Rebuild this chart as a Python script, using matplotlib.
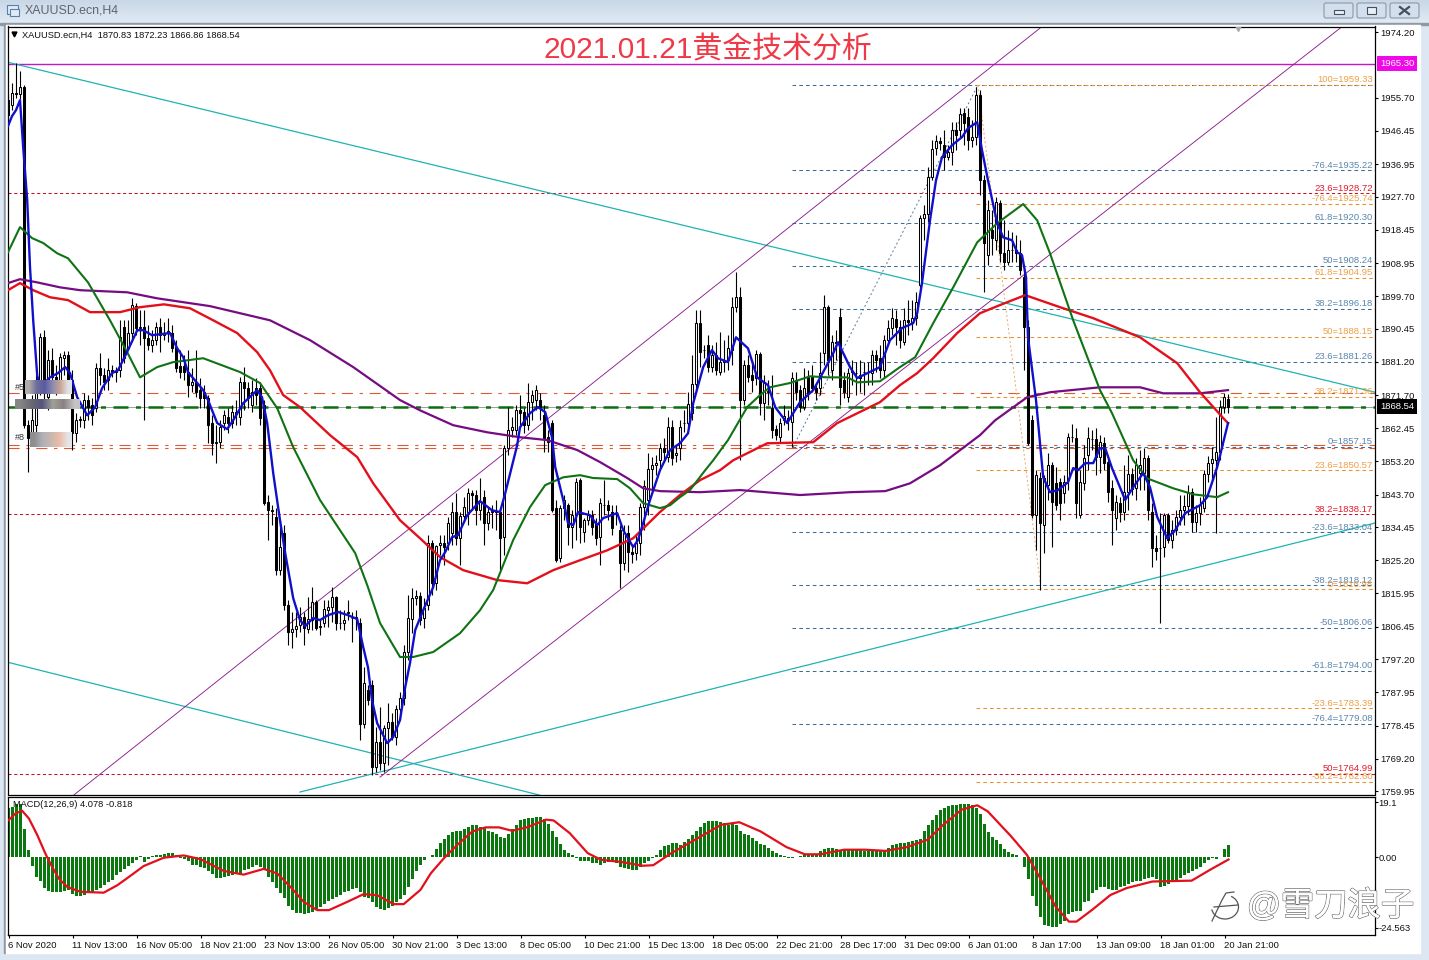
import numpy as np
import matplotlib
matplotlib.use("Agg")
import matplotlib.pyplot as plt
import matplotlib.patheffects as pe
from matplotlib.patches import Rectangle, FancyBboxPatch, Arc

plt.rcParams["font.family"] = ["Liberation Sans", "Noto Sans CJK SC", "DejaVu Sans"]

# H4 candles, 10 bars per row
opens = [
    1955.0,1953.6,1957.0,1956.7,1958.7,1863.3,1859.6,1863.3,1874.0,1888.1,
    1871.2,1881.6,1876.8,1875.4,1882.2,1883.1,1876.0,1861.0,1864.7,1864.7,
    1870.4,1869.0,1868.1,1879.4,1877.4,1876.0,1878.8,1878.3,1878.8,1891.0,
    1885.0,1889.3,1896.9,1890.7,1891.0,1887.8,1885.9,1887.3,1891.0,1888.7,
    1889.3,1889.3,1885.3,1880.0,1880.0,1878.3,1874.6,1875.4,1873.2,1872.6,
    1870.9,1863.9,1858.2,1858.5,1863.9,1865.6,1863.9,1867.0,1865.6,1875.4,
    1873.7,1869.0,1873.7,1873.7,1869.0,1841.6,1839.3,1837.4,1822.4,1832.8,
    1812.5,1804.9,1805.8,1806.9,1809.1,1805.8,1808.3,1813.4,1806.3,1807.5,
    1811.1,1812.0,1814.8,1807.5,1807.5,1810.6,1808.9,1808.9,1807.5,1779.0,
    1788.5,1790.0,1766.8,1773.9,1768.0,1777.8,1779.5,1775.3,1783.2,1786.3,
    1799.3,1808.6,1814.5,1815.1,1808.9,1812.5,1830.0,1818.7,1829.5,1830.0,
    1830.0,1832.8,1838.8,1831.4,1837.6,1838.8,1844.1,1843.6,1839.3,1843.0,
    1835.7,1838.8,1839.0,1838.8,1831.7,1856.8,1861.9,1861.9,1867.5,1867.0,
    1863.3,1869.8,1870.4,1870.4,1866.1,1859.9,1863.9,1839.9,1825.8,1839.9,
    1840.7,1834.5,1837.9,1847.8,1833.1,1836.5,1837.9,1835.7,1831.7,1840.7,
    1840.7,1838.8,1838.5,1833.7,1824.4,1832.8,1827.5,1827.2,1830.0,1840.2,
    1842.2,1850.9,1852.0,1853.4,1856.8,1854.3,1862.7,1854.8,1856.8,1863.9,
    1863.9,1866.7,1874.9,1892.1,1884.5,1885.9,1879.7,1883.1,1878.3,1881.1,
    1881.6,1884.5,1896.6,1899.4,1870.4,1880.2,1877.4,1876.6,1883.3,1869.5,
    1872.6,1868.1,1862.2,1859.9,1864.7,1865.3,1864.2,1876.0,1873.2,1868.4,
    1876.8,1876.8,1873.7,1873.7,1883.6,1896.6,1878.8,1886.7,1893.8,1876.0,
    1871.2,1878.3,1878.0,1877.4,1878.3,1878.3,1878.0,1883.1,1882.2,1878.8,
    1887.3,1890.7,1893.2,1891.0,1886.7,1892.9,1892.4,1893.5,1902.8,1921.7,
    1922.8,1933.3,1941.4,1943.4,1942.3,1938.9,1940.3,1946.5,1946.5,1951.3,
    1950.2,1943.7,1944.6,1956.4,1932.4,1911.3,1918.3,1915.5,1925.9,1911.8,
    1909.3,1912.7,1912.7,1911.8,1905.1,1891.0,1864.7,1837.9,1848.4,1835.1,
    1846.4,1852.0,1846.9,1847.2,1844.1,1847.8,1859.9,1859.6,1837.9,1846.9,
    1854.8,1859.4,1859.4,1854.3,1858.2,1852.9,1845.5,1837.1,1841.3,1838.8,
    1844.4,1849.5,1845.5,1849.8,1849.8,1854.0,1838.8,1828.6,1828.6,1828.9,
    1837.9,1830.9,1833.7,1837.4,1839.3,1840.5,1844.4,1835.9,1838.5,1839.9,
    1849.5,1852.6,1853.4,1855.7,1868.4,1870.83,
]
closes = [
    1950.8,1957.0,1956.7,1958.7,1863.3,1859.6,1864.7,1874.0,1888.1,1876.0,
    1881.6,1876.8,1875.4,1882.5,1883.1,1876.0,1861.0,1864.7,1865.0,1870.4,
    1868.4,1866.1,1879.4,1877.4,1875.4,1878.8,1878.3,1878.5,1888.1,1882.2,
    1889.3,1897.2,1890.7,1891.0,1887.8,1885.9,1887.3,1891.0,1888.7,1889.3,
    1889.8,1885.0,1879.4,1878.3,1878.3,1874.6,1875.4,1872.6,1870.9,1870.9,
    1863.3,1858.2,1858.5,1862.7,1866.1,1863.9,1867.0,1866.4,1875.4,1873.7,
    1870.9,1872.6,1871.8,1865.3,1841.3,1839.3,1839.0,1822.4,1828.9,1812.5,
    1804.9,1805.8,1806.6,1809.1,1806.0,1808.6,1813.4,1806.0,1806.6,1811.4,
    1812.0,1814.8,1807.5,1807.5,1808.3,1810.3,1808.9,1809.1,1779.0,1790.5,
    1785.7,1766.8,1773.9,1768.0,1777.8,1779.5,1775.3,1783.2,1786.3,1799.3,
    1808.9,1814.5,1815.1,1808.3,1811.7,1830.0,1818.7,1829.2,1830.0,1828.9,
    1835.7,1838.8,1831.4,1837.6,1840.2,1844.1,1843.6,1839.3,1841.6,1835.7,
    1838.8,1839.0,1838.8,1831.4,1856.8,1861.9,1862.7,1867.5,1866.7,1863.3,
    1869.8,1871.8,1873.2,1868.4,1859.6,1858.5,1839.3,1825.2,1839.9,1842.2,
    1834.5,1837.9,1847.2,1834.5,1836.5,1837.9,1834.5,1831.4,1841.3,1840.7,
    1839.3,1834.2,1838.5,1824.4,1832.8,1827.5,1826.9,1830.0,1840.2,1846.1,
    1850.9,1852.0,1852.6,1856.8,1855.7,1862.7,1854.0,1855.4,1862.7,1863.9,
    1869.2,1874.9,1892.1,1883.9,1884.5,1879.7,1883.1,1878.8,1881.1,1881.6,
    1885.0,1896.6,1899.4,1870.4,1880.2,1876.8,1876.0,1883.3,1869.5,1875.2,
    1872.9,1861.9,1860.5,1863.9,1865.9,1864.7,1876.6,1872.6,1868.4,1873.7,
    1872.3,1873.7,1872.6,1878.0,1896.6,1881.6,1886.7,1886.4,1874.0,1872.6,
    1878.0,1878.5,1878.0,1876.6,1878.3,1878.3,1883.1,1881.6,1878.8,1887.3,
    1890.7,1893.5,1891.0,1887.3,1892.9,1892.4,1893.5,1898.0,1921.7,1922.8,
    1933.3,1941.2,1943.4,1942.9,1938.9,1940.3,1946.5,1945.1,1951.0,1948.5,
    1943.7,1944.6,1956.4,1932.4,1914.6,1924.0,1916.1,1926.2,1911.8,1909.3,
    1912.7,1912.7,1911.8,1907.0,1891.0,1858.2,1837.9,1849.2,1835.7,1848.4,
    1852.0,1841.6,1840.7,1841.3,1847.2,1859.9,1859.9,1841.3,1847.2,1854.0,
    1859.6,1859.4,1854.3,1858.5,1852.6,1844.4,1839.3,1841.6,1838.8,1844.4,
    1849.5,1845.2,1852.0,1852.0,1854.0,1839.3,1828.6,1827.8,1828.6,1837.9,
    1830.9,1833.7,1837.4,1839.3,1840.5,1844.1,1835.9,1838.5,1840.7,1849.5,
    1852.6,1853.7,1855.7,1868.4,1871.2,1868.54,
]
highs = [
    1956.4,1959.8,1965.4,1963.2,1959.2,1864.7,1871.8,1877.4,1889.3,1890.1,
    1884.5,1885.0,1880.2,1883.6,1884.2,1884.2,1878.8,1866.7,1865.8,1872.3,
    1871.8,1870.9,1880.8,1883.6,1879.4,1882.2,1880.2,1879.7,1892.9,1892.9,
    1892.9,1899.1,1897.7,1895.7,1895.7,1891.5,1890.1,1892.4,1893.5,1892.4,
    1893.5,1891.5,1887.3,1884.5,1883.1,1884.5,1879.4,1884.5,1876.6,1874.6,
    1871.8,1866.1,1863.3,1864.7,1867.5,1868.1,1869.0,1870.4,1876.8,1879.7,
    1875.4,1876.0,1876.6,1875.4,1870.4,1843.6,1840.7,1839.9,1836.5,1835.1,
    1813.9,1810.6,1810.6,1812.0,1810.6,1814.8,1817.6,1813.9,1808.3,1813.9,
    1813.9,1817.6,1815.1,1811.1,1811.1,1813.9,1810.6,1811.1,1808.9,1795.0,
    1790.0,1791.4,1778.1,1783.8,1778.7,1784.9,1782.1,1784.3,1788.0,1801.2,
    1815.3,1817.3,1816.8,1816.2,1814.5,1832.3,1830.9,1829.5,1832.3,1832.3,
    1837.4,1841.6,1844.1,1838.8,1843.0,1845.5,1845.0,1845.0,1848.4,1845.0,
    1840.2,1840.7,1842.2,1839.3,1857.7,1868.4,1865.6,1869.0,1871.8,1868.1,
    1875.2,1873.2,1874.6,1872.3,1869.0,1861.9,1864.7,1842.2,1840.7,1843.6,
    1841.3,1839.3,1848.4,1848.4,1837.1,1839.3,1839.3,1837.1,1842.7,1847.8,
    1842.2,1840.7,1840.7,1835.1,1835.1,1835.1,1829.5,1832.3,1841.3,1847.8,
    1855.4,1854.3,1854.8,1858.2,1859.6,1865.6,1864.7,1857.7,1864.7,1867.5,
    1872.6,1883.1,1895.7,1895.7,1885.9,1888.7,1885.9,1886.7,1889.5,1887.3,
    1888.7,1899.4,1906.5,1902.2,1881.6,1883.1,1881.6,1884.5,1883.9,1877.4,
    1876.0,1877.4,1863.3,1865.3,1868.9,1867.5,1878.3,1878.3,1874.6,1879.4,
    1878.8,1880.2,1874.6,1883.9,1900.0,1897.2,1888.7,1890.1,1896.3,1878.3,
    1879.4,1881.6,1881.1,1881.6,1881.1,1881.1,1884.5,1884.5,1885.9,1888.7,
    1892.9,1896.3,1895.7,1892.9,1896.3,1898.6,1898.6,1900.8,1922.5,1925.4,
    1936.1,1943.7,1945.1,1944.6,1946.5,1942.3,1948.8,1948.8,1952.7,1952.7,
    1952.7,1949.4,1958.7,1957.8,1933.8,1926.8,1924.0,1927.6,1926.8,1921.1,
    1918.3,1917.8,1916.9,1915.5,1908.4,1892.9,1866.1,1850.6,1850.0,1849.2,
    1855.4,1852.9,1851.5,1848.4,1849.2,1861.0,1863.6,1862.5,1850.6,1857.7,
    1862.7,1861.9,1862.5,1860.5,1859.9,1854.0,1847.8,1843.6,1843.0,1852.0,
    1854.8,1851.2,1854.0,1856.3,1856.8,1854.8,1841.3,1832.3,1838.5,1838.5,
    1838.5,1836.5,1839.3,1843.6,1843.6,1846.4,1845.5,1840.7,1843.0,1850.6,
    1854.6,1857.1,1865.6,1870.4,1872.3,1872.23,
]
lows = [
    1950.2,1952.2,1955.6,1955.3,1862.5,1850.0,1857.7,1860.5,1871.8,1870.4,
    1867.5,1874.6,1871.8,1873.2,1877.4,1874.6,1856.3,1858.5,1862.7,1862.5,
    1864.7,1863.3,1867.0,1874.6,1873.2,1873.2,1876.8,1875.4,1876.8,1880.8,
    1884.5,1887.3,1888.7,1885.9,1864.7,1884.5,1883.9,1885.9,1883.9,1887.3,
    1886.7,1883.9,1878.3,1876.6,1876.0,1871.2,1872.6,1871.2,1868.1,1868.1,
    1858.2,1854.8,1852.6,1856.8,1861.9,1861.0,1862.5,1863.3,1863.3,1867.5,
    1868.1,1867.0,1869.0,1863.3,1840.7,1830.9,1835.1,1821.0,1821.0,1811.1,
    1801.2,1800.4,1803.5,1804.9,1801.2,1804.6,1805.5,1805.5,1804.1,1806.3,
    1806.3,1807.7,1805.5,1805.8,1805.5,1808.3,1802.1,1805.5,1774.4,1777.8,
    1784.3,1764.6,1765.4,1766.0,1765.4,1767.4,1774.4,1773.0,1780.1,1784.3,
    1797.0,1804.6,1812.5,1806.9,1806.0,1811.1,1815.3,1816.8,1826.6,1823.8,
    1828.0,1829.5,1829.5,1823.8,1835.9,1835.1,1839.3,1835.1,1836.5,1829.5,
    1833.7,1834.2,1833.7,1822.4,1826.6,1854.8,1859.9,1860.5,1863.3,1861.0,
    1861.9,1864.7,1867.5,1864.7,1855.7,1855.7,1838.8,1824.7,1824.7,1836.5,
    1829.5,1828.6,1830.9,1830.0,1830.3,1835.1,1832.3,1829.5,1823.8,1837.9,
    1836.5,1832.3,1835.1,1817.3,1822.4,1821.8,1824.4,1825.2,1826.6,1833.7,
    1837.9,1845.0,1849.2,1851.2,1852.9,1852.9,1852.0,1852.9,1853.4,1861.3,
    1862.5,1864.7,1873.2,1879.7,1882.2,1878.3,1878.3,1877.4,1877.4,1878.3,
    1878.8,1880.2,1895.2,1853.4,1868.9,1875.4,1872.6,1874.6,1866.1,1864.7,
    1868.9,1859.6,1859.1,1858.5,1863.3,1861.9,1857.1,1870.4,1867.0,1867.5,
    1870.4,1872.6,1870.4,1871.8,1880.2,1877.4,1876.0,1881.6,1868.9,1870.9,
    1869.8,1874.6,1871.8,1872.6,1871.8,1874.6,1874.6,1878.3,1876.6,1876.6,
    1885.9,1888.7,1885.9,1885.0,1885.9,1888.7,1890.1,1891.5,1902.0,1915.5,
    1920.6,1932.4,1939.5,1940.9,1935.2,1938.1,1936.7,1940.9,1944.6,1942.3,
    1940.9,1941.7,1942.3,1928.2,1900.8,1908.4,1911.3,1912.7,1909.3,1907.0,
    1908.4,1909.3,1909.3,1905.6,1878.8,1857.7,1837.1,1828.0,1816.8,1827.2,
    1842.2,1828.9,1839.3,1836.5,1841.3,1845.0,1858.5,1837.1,1837.1,1845.0,
    1850.6,1856.3,1849.2,1849.8,1850.6,1841.6,1829.5,1833.7,1835.9,1836.5,
    1839.3,1843.6,1842.2,1845.0,1845.0,1836.5,1823.3,1825.2,1807.5,1826.1,
    1830.0,1828.6,1832.3,1835.1,1835.1,1837.9,1833.1,1833.1,1835.1,1838.8,
    1847.2,1847.8,1832.8,1853.4,1866.7,1866.86,
]

# moving averages, (bar, price)
blue_bars = [0,1,2,3,3.8,4.8,5.5,6.3,7.3,8,10.5,12.5,14.3,15.5,17.3,19.8,21.8,23.5,26,27.5,30,32.3,33.8,36,40.5,42.3,43.8,45,48.8,50,52.3,54.8,56.3,58.8,62.3,63.5,64.8,66.3,68,69.3,71.3,73,74.3,76.3,78,80,82.5,85,87.3,88.8,90,91,92.3,94.8,96.3,98,99.3,100.5,101.8,103.8,106.3,108,109.3,111,112.5,114.8,118,121,123,124.3,127.3,128,130.5,132.5,134.3,136,136.8,138.8,140,141.3,142.5,145.5,147.3,148.8,152.3,153.8,156.3,157.5,158.8,160.5,163,165.5,168,170,171.3,173.8,176,177.5,180,182,185,187.3,190,191.8,194.8,196.3,198,201.3,203,206.3,207.5,210.5,212.3,218,220.5,223.5,226.3,227.3,228.5,230.5,232,233.5,236,238.5,240,242.3,243.5,245,247.3,248.8,251,252.3,253.5,254.5,255,257,258,258.8,260.5,262.5,265,266.3,267.5,269.3,271.3,273,274.3,276,279.3,281.3,283.8,285.5,287.3,289.8,291.8,294.3,298,299.8,302.3,305]
blue_vals = [1947.7,1950.5,1952.2,1955.0,1941.7,1926.8,1907.9,1892.9,1877.4,1874.0,1876.8,1878.0,1879.7,1878.0,1871.2,1866.1,1868.4,1873.7,1878.0,1878.8,1884.5,1890.1,1890.1,1888.7,1889.3,1885.0,1882.5,1878.3,1873.2,1870.4,1863.9,1862.2,1864.7,1869.5,1873.2,1871.2,1863.9,1849.8,1836.5,1827.2,1814.5,1808.3,1806.6,1808.9,1808.3,1809.7,1810.6,1809.7,1808.6,1800.7,1795.0,1785.7,1779.2,1773.6,1775.3,1780.1,1789.4,1796.2,1805.5,1811.1,1817.6,1825.2,1827.5,1831.7,1832.3,1837.9,1841.9,1839.3,1838.8,1844.1,1857.7,1862.7,1866.7,1868.4,1867.0,1859.9,1851.5,1842.2,1835.7,1835.1,1838.8,1837.9,1835.1,1837.1,1838.5,1833.7,1828.9,1830.9,1835.7,1842.2,1850.6,1856.3,1858.2,1861.0,1869.5,1879.7,1884.5,1882.2,1881.1,1888.1,1885.0,1876.8,1874.6,1868.4,1863.9,1866.7,1869.8,1873.2,1876.6,1883.6,1886.7,1879.7,1876.6,1879.7,1887.3,1890.7,1892.1,1894.9,1903.4,1921.1,1932.4,1938.9,1942.3,1944.6,1947.1,1948.8,1940.9,1932.4,1920.3,1916.3,1915.5,1912.1,1911.3,1905.1,1888.1,1870.4,1858.2,1848.6,1844.4,1845.0,1847.2,1851.2,1850.6,1852.6,1852.6,1856.8,1856.8,1851.2,1842.2,1845.8,1849.8,1845.8,1837.4,1831.4,1833.7,1838.5,1840.7,1843.0,1851.5,1863.9]

red_bars = [0,3,6.3,10.5,15,20.5,28,33,39,45.5,51.3,57.3,62.3,65.5,68.8,73,80.5,87.3,91.3,98,103,108,113.8,122.3,129.8,136.3,143,149.8,156.3,163,168,173,178,181.3,189.8,201.3,207.3,218,223,227.3,231.3,237.3,243,248,254.3,263,271.3,283,292.3,298,304.3,305]
red_vals = [1901.4,1903.4,1901.4,1899.4,1898.6,1895.2,1895.2,1896.6,1897.4,1896.3,1892.9,1889.3,1883.9,1878.8,1871.8,1868.4,1860.5,1854.3,1846.9,1836.5,1831.4,1826.1,1822.4,1819.6,1818.7,1822.4,1825.2,1828.0,1831.4,1838.8,1843.6,1847.8,1850.6,1853.4,1858.2,1858.5,1863.9,1869.8,1874.6,1878.0,1882.2,1889.3,1894.9,1897.2,1900.0,1896.6,1893.5,1888.1,1880.8,1872.6,1864.7,1863.9]

purple_bars = [0,3,7.3,13,18,29.8,37.3,50.5,65.5,75.5,86.3,98,103,111.3,119.8,128,134.8,142.3,148,154.8,158.8,163,173,183,198,210.5,219.3,225.5,233,243,246.8,254.8,260.5,273,283,288.8,298,305]
purple_vals = [1903.4,1904.5,1903.6,1902.2,1901.4,1900.8,1899.1,1896.9,1892.9,1887.3,1879.7,1870.4,1867.5,1863.3,1861.3,1859.9,1859.1,1856.3,1852.9,1848.4,1845.5,1844.7,1844.4,1845.0,1843.6,1844.4,1844.7,1846.9,1852.0,1860.5,1864.7,1871.2,1872.6,1874.0,1874.0,1872.3,1872.3,1873.2]

green_bars = [0,3,6,8.8,12.3,15,20,25.5,29.8,33,37.3,41.3,48.8,58,63,67.3,71.3,78,86.8,89.8,93,98,101.3,106.3,113,118,121.3,126.3,130.5,134.3,138.8,143,146.3,152.3,155.5,158.8,163,165.5,168,170.5,174.3,176.3,180,184.8,188,190.5,195.5,200.5,204.8,209.8,212.3,218,223,226.8,231.3,236.3,242.3,247.3,253.8,257.3,260.5,266.3,273,276,281.3,284.8,291.3,296.3,302.3,305]
green_vals = [1912.1,1919.2,1916.1,1914.7,1911.8,1910.4,1903.6,1892.9,1883.9,1876.8,1879.7,1881.1,1882.2,1878.3,1875.2,1868.1,1857.1,1842.2,1827.2,1818.2,1807.5,1797.9,1797.9,1799.3,1804.6,1811.1,1816.8,1830.9,1840.2,1846.4,1848.6,1849.2,1848.4,1848.1,1845.5,1841.3,1839.9,1840.7,1843.0,1845.0,1850.6,1853.4,1859.1,1868.4,1871.8,1874.0,1875.2,1877.1,1876.8,1876.8,1875.4,1875.7,1879.7,1882.5,1892.1,1902.2,1914.9,1920.3,1925.7,1921.1,1911.8,1892.9,1873.2,1866.7,1853.4,1848.3,1845.5,1843.8,1843.0,1844.4]

# MACD histogram, 10 bars per row
macd_hist = [
    17.0,17.6,18.5,18.5,9.7,2.4,-3.1,-6.9,-8.4,-10.6,
    -11.8,-12.0,-12.2,-12.1,-11.8,-11.5,-12.9,-13.5,-13.5,-13.1,
    -12.4,-12.1,-11.5,-10.6,-9.8,-8.7,-7.8,-6.4,-5.1,-4.1,
    -3.1,-2.1,-1.0,0.3,-1.7,-0.8,0.3,0.6,0.8,1.0,
    1.4,1.4,0.9,-0.3,-0.8,-1.4,-2.8,-2.9,-3.5,-3.8,
    -4.9,-5.8,-7.2,-7.2,-6.8,-6.5,-6.1,-5.8,-5.8,-4.4,
    -4.1,-3.6,-2.9,-3.3,-4.1,-7.0,-8.7,-10.7,-12.6,-14.2,
    -16.9,-18.4,-19.5,-19.6,-19.8,-19.6,-19.2,-18.1,-17.3,-16.3,
    -15.2,-14.6,-13.8,-13.1,-12.2,-11.7,-11.2,-10.7,-12.2,-14.0,
    -14.2,-15.7,-17.3,-18.1,-18.4,-17.7,-16.9,-15.7,-14.6,-13.1,
    -10.5,-7.6,-4.7,-2.6,-0.9,0.1,0.9,2.9,4.9,6.4,
    7.6,8.9,9.3,9.3,9.9,10.7,11.1,11.1,10.7,10.3,
    9.1,8.7,8.2,7.2,6.8,8.2,9.9,11.4,12.8,13.2,
    13.6,13.8,14.0,14.0,13.4,11.7,9.3,7.0,4.7,2.6,
    1.4,0.6,-0.2,-1.2,-1.4,-1.5,-1.9,-2.0,-2.9,-2.1,
    -1.7,-1.7,-2.1,-3.3,-3.7,-4.3,-4.4,-4.4,-3.3,-2.1,
    -1.2,-0.2,0.9,2.6,3.8,4.4,4.9,4.9,4.4,5.2,
    6.4,7.9,9.1,10.7,11.9,12.5,12.6,12.5,12.2,11.9,
    11.4,11.9,11.1,9.1,8.2,7.6,6.8,5.8,4.7,4.1,
    3.3,2.1,1.4,0.7,0.3,-0.2,-0.3,-0.1,0.3,0.9,
    0.9,0.9,1.2,2.1,2.9,3.3,3.3,2.9,2.6,2.9,
    2.9,2.9,2.9,2.6,2.3,2.1,2.1,2.1,2.3,2.6,
    3.3,4.1,4.7,4.9,5.1,5.4,5.6,6.1,6.4,9.1,
    11.1,12.8,14.6,16.3,17.3,17.7,18.1,18.3,18.4,18.7,
    18.4,18.1,17.3,14.9,11.7,8.7,7.2,6.1,4.7,2.9,
    1.7,1.2,0.6,0.2,-3.5,-7.6,-13.4,-16.9,-21.0,-23.7,
    -24.1,-24.5,-24.3,-23.3,-22.2,-19.8,-19.2,-18.9,-18.7,-15.7,
    -15.2,-12.6,-11.4,-10.5,-10.5,-11.2,-11.4,-11.4,-10.5,-9.9,
    -9.3,-8.7,-8.2,-8.2,-7.6,-7.2,-7.0,-7.6,-10.5,-9.9,
    -9.3,-8.7,-8.2,-7.2,-6.1,-5.6,-4.9,-4.1,-3.3,-2.1,
    -0.9,-0.3,-0.6,0.2,2.9,4.078,
]
signal_bars = [0,1.8,3.4,5.1,7.2,9.3,10.9,12.6,14.7,18,23.8,27.2,30.1,33.8,38.8,43.8,48,53.8,58.8,63.8,67.2,70.5,73.8,77.2,80.1,84.7,88.8,92.2,96.3,98.8,103,105.6,108.9,112.2,116,119.3,122.6,125.9,129.8,134.4,136.3,140.3,144.8,148.1,153.3,158.6,161.2,165.7,172.3,178.2,182.7,188,194.5,199.1,203,208.9,214.1,219.3,224.6,229.8,233.7,238.3,242.2,244.8,250.7,254.6,257.9,261.8,265.1,267,270.9,275.5,279.5,286,295.8,300.4,305]
signal_vals = [12.9,15.3,16.2,13.5,7.7,1.0,-3.4,-7.5,-10.4,-12.1,-12.4,-9.8,-6.9,-3.1,-0.2,0.6,-0.7,-4.8,-6.1,-4.1,-5.7,-10.4,-15.6,-18.5,-18.5,-15.6,-12.9,-13.3,-16.4,-16.4,-11.4,-5.6,-0.3,4.3,9.0,10.4,10.4,9.2,10.5,13.1,12.8,8.4,1.4,-0.9,-1.7,-3.0,-2.8,1.4,6.6,11.3,12.2,9.0,3.5,1.0,1.0,2.6,2.6,2.2,3.5,6.1,11.3,16.6,18.1,16.0,7.2,0.8,-7.3,-17.3,-22.5,-22.5,-18.4,-13.2,-10.8,-8.5,-8.2,-4.4,-0.818]

# fibonacci levels, blue set and orange set
blue_fib = [
    ("", 1959.33), ("-76.4=1935.22", 1935.22), ("61.8=1920.30", 1920.30),
    ("50=1908.24", 1908.24), ("38.2=1896.18", 1896.18), ("23.6=1881.26", 1881.26),
    ("0=1857.15", 1857.15), ("-23.6=1833.04", 1833.04), ("-38.2=1818.12", 1818.12),
    ("-50=1806.06", 1806.06), ("-61.8=1794.00", 1794.00), ("-76.4=1779.08", 1779.08),
]
orange_fib = [
    ("100=1959.33", 1959.33), ("-76.4=1925.74", 1925.74), ("61.8=1904.95", 1904.95),
    ("50=1888.15", 1888.15), ("38.2=1871.36", 1871.36), ("23.6=1850.57", 1850.57),
    ("0=1816.98", 1816.98), ("-23.6=1783.39", 1783.39), ("-38.2=1762.60", 1762.60),
]
red_fib = [("23.6=1928.72", 1928.72), ("38.2=1838.17", 1838.17), ("50=1764.99", 1764.99)]

price_ticks = [1974.20,1955.70,1946.45,1936.95,1927.70,1918.45,1908.95,1899.70,1890.45,1881.20,1871.70,
               1862.45,1853.20,1843.70,1834.45,1825.20,1815.95,1806.45,1797.20,1787.95,1778.45,1769.20,1759.95]
time_labels = ["6 Nov 2020","11 Nov 13:00","16 Nov 05:00","18 Nov 21:00","23 Nov 13:00","26 Nov 05:00",
               "30 Nov 21:00","3 Dec 13:00","8 Dec 05:00","10 Dec 21:00","15 Dec 13:00","18 Dec 05:00",
               "22 Dec 21:00","28 Dec 17:00","31 Dec 09:00","6 Jan 01:00","8 Jan 17:00","13 Jan 09:00",
               "18 Jan 01:00","20 Jan 21:00"]

W, H = 1429, 960
fig = plt.figure(figsize=(W / 100, H / 100), dpi=100, facecolor="#dce7f3")


def px_axes(left, top, right, bottom, **kw):
    return fig.add_axes([left / W, 1 - bottom / H, (right - left) / W, (bottom - top) / H], **kw)


# window frame behind the charts
bg = px_axes(0, 0, W, H)
bg.set_xlim(0, W)
bg.set_ylim(H, 0)
bg.axis("off")
bg.imshow(np.linspace(0, 1, 24).reshape(-1, 1), extent=(0, W, 23, 0), aspect="auto",
          cmap=matplotlib.colors.LinearSegmentedColormap.from_list("bar", ["#c9d7e6", "#e0eaf4"]))
bg.set_xlim(0, W)
bg.set_ylim(H, 0)
bg.add_patch(Rectangle((0, 23), 1429, 1.5, color="#8f98a3"))
bg.add_patch(Rectangle((4, 23), 1.5, 930, color="#8f98a3"))
bg.add_patch(Rectangle((6, 25), 1414, 928, color="white"))
for left in [1324, 1357, 1390]:
    bg.add_patch(FancyBboxPatch((left, 3), 29, 15, boxstyle="round,pad=0,rounding_size=2",
                                facecolor="#d3dfec", edgecolor="#8c98a6", lw=0.8))
bg.add_patch(Rectangle((1334, 10), 10, 4, facecolor="#e8eef5", edgecolor="#44505c", lw=0.8))
bg.add_patch(Rectangle((1367, 7), 9, 7, facecolor="#e8eef5", edgecolor="#44505c", lw=0.8))
bg.plot([1400, 1409], [7, 14], color="#44505c", lw=1.6)
bg.plot([1409, 1400], [7, 14], color="#44505c", lw=1.6)
bg.add_patch(Rectangle((7, 5), 11, 9, facecolor="#dfe9f4", edgecolor="#5a7fa8", lw=0.8))
bg.add_patch(Rectangle((10, 9), 9, 7, facecolor="#dfe9f4", edgecolor="#5a7fa8", lw=0.8))
bg.text(25, 10.5, "XAUUSD.ecn,H4", fontsize=8.9, color="#5c6670", va="center")

# main price panel, one bar is 4 pixels
ax = px_axes(7.5, 26.5, 1374.5, 794.5)
ax.patch.set_alpha(0)
right_bar = (1374.5 - 8) / 4
ax.set_xlim((7.5 - 8) / 4, right_bar)
ax.set_ylim(1759.1, 1975.8)

for label, level in blue_fib:
    ax.plot([196, right_bar], [level, level], color="#3f6d95", lw=0.75, ls=(0, (3.5, 3)), zorder=1)
    ax.text(right_bar - 0.4, level + 0.2, label, color="#5a86ad", fontsize=6.8, ha="right", va="bottom", zorder=6)
for label, level in orange_fib:
    ax.plot([242, right_bar], [level, level], color="#e8932a", lw=0.75, ls=(0, (3.5, 3)), zorder=1)
    ax.text(right_bar - 0.4, level + 0.2, label, color="#eda048", fontsize=6.8, ha="right", va="bottom", zorder=6)
for label, level in red_fib:
    ax.axhline(level, color="#c8102e", lw=0.75, ls=(0, (3, 2.5)), zorder=1)
    ax.text(right_bar - 0.4, level + 0.2, label, color="#e3182d", fontsize=6.8, ha="right", va="bottom", zorder=6)

# horizontal levels and trend lines
ax.axhline(1965.30, color="#c715c7", lw=1.0, zorder=1)
ax.axhline(1872.3, color="#e05a30", lw=0.8, ls=(0, (10, 6, 3, 6)), zorder=1)
ax.axhline(1857.6, color="#e05a30", lw=0.8, ls=(0, (10, 6, 3, 6)), zorder=1)
ax.axhline(1856.9, color="#e05a30", lw=0.8, ls=(0, (10, 6, 3, 6)), zorder=1)
ax.axhline(1868.54, color="#9aa59a", lw=0.75, zorder=1)
ax.axhline(1868.54, color="#0d6e12", lw=1.8, ls=(0, (6, 3, 2, 3)), zorder=1.5)

ax.plot([0, 341.75], [1965.7, 1872.6], color="#1fb3b3", lw=0.9, zorder=1.5)
ax.plot([0, 133], [1796.4, 1758.9], color="#1fb3b3", lw=0.9, zorder=1.5)
ax.plot([73, 341.75], [1759.8, 1835.7], color="#1fb3b3", lw=0.9, zorder=1.5)
ax.plot([15.5, 261.75], [1758.1, 1978.7], color="#8a1f8f", lw=0.65, zorder=1.5)
ax.plot([93, 334.25], [1764.0, 1976.4], color="#8a1f8f", lw=0.65, zorder=1.5)
ax.plot([196.25, 242.5], [1857.15, 1959.33], color="#56789c", lw=0.7, ls=(0, (2, 2.5)), zorder=1.5)
ax.plot([242.5, 258.25], [1959.33, 1816.98], color="#e8a860", lw=0.7, ls=(0, (2, 2.5)), zorder=1.5)

# candles
x = np.arange(len(closes))
o = np.array(opens)
c = np.array(closes)
ax.vlines(x, lows, highs, color="black", lw=0.8, zorder=3)
ax.bar(x, np.abs(c - o), bottom=np.minimum(o, c), width=0.55,
       color=["white" if up else "black" for up in c >= o], edgecolor="black", lw=0.75, zorder=3.1)

# moving averages
ax.plot(purple_bars, purple_vals, color="#760c82", lw=1.6, zorder=4)
ax.plot(red_bars, red_vals, color="#e3101c", lw=1.7, zorder=4.1)
ax.plot(green_bars, green_vals, color="#0f7213", lw=1.5, zorder=4.2)
ax.plot(blue_bars, blue_vals, color="#1010cc", lw=1.7, zorder=4.3)

ax.yaxis.tick_right()
ax.set_yticks(price_ticks)
ax.set_yticklabels([f"{t:.2f}" for t in price_ticks], fontsize=6.8, color="#111111")
ax.tick_params(axis="y", length=2.5, width=0.8, pad=2)
ax.set_xticks([])
for s in ax.spines.values():
    s.set_linewidth(0.9)

# price boxes on the scale
box_x = (1380 - 7.5) / (1374.5 - 7.5)
ax.text(box_x, 1965.30, "1965.30", transform=ax.get_yaxis_transform(), fontsize=6.8, color="white", va="center",
        bbox=dict(facecolor="#f008e8", edgecolor="none", boxstyle="square,pad=0.3"), clip_on=False, zorder=7)
ax.text(box_x, 1868.54, "1868.54", transform=ax.get_yaxis_transform(), fontsize=6.8, color="white", va="center",
        bbox=dict(facecolor="black", edgecolor="none", boxstyle="square,pad=0.3"), clip_on=False, zorder=7)

ax.text(0.0105, 0.9945, "XAUUSD.ecn,H4  1870.83 1872.23 1866.86 1868.54", transform=ax.transAxes,
        fontsize=6.7, color="#111111", va="top", zorder=7)
ax.plot([0.0045], [0.9905], marker="v", ms=3.5, color="black", transform=ax.transAxes, zorder=7)
ax.plot([0.9], [0.998], marker="v", ms=4.5, color="#a8a8a8", transform=ax.transAxes, zorder=7)
ax.text(0.512, 0.9695, "2021.01.21黄金技术分析", transform=ax.transAxes, fontsize=21.5, color="#ee3a46",
        ha="center", va="center", zorder=7)

# MACD panel, half a pixel over so the 3 px bars land on whole pixels
ax2 = px_axes(7.5, 797, 1374.5, 934.5)
ax2.patch.set_alpha(0)
ax2.set_xlim((7.5 - 8.5) / 4, (1374.5 - 8.5) / 4)
ax2.set_ylim(-27.0, 21.0)
ax2.bar(np.arange(len(macd_hist)), macd_hist, width=0.75, color="#0a780f", lw=0)
ax2.plot(signal_bars, signal_vals, color="#e3101c", lw=1.6, zorder=4)
ax2.yaxis.tick_right()
ax2.set_yticks([19.1, 0, -24.563])
ax2.set_yticklabels(["19.1", "0.00", "-24.563"], fontsize=6.8, color="#111111")
ax2.tick_params(axis="y", length=2, width=0.8, pad=1)
ax2.set_xticks(np.arange(len(time_labels)) * 16)
ax2.set_xticklabels(time_labels, fontsize=6.8, color="#111111", ha="left")
ax2.tick_params(axis="x", length=2.5, width=0.8, pad=2)
for s in ax2.spines.values():
    s.set_linewidth(0.9)
ax2.text(0.004, 0.975, "MACD(12,26,9) 4.078 -0.818", transform=ax2.transAxes, fontsize=6.7,
         color="#111111", va="top")

# overlay for the blurred labels and the watermark
top = px_axes(0, 0, W, H)
top.patch.set_alpha(0)
top.axis("off")
top.text(15, 388, "#5", fontsize=6.5, color="#333333", va="center")
top.text(15, 438, "#8", fontsize=6.5, color="#333333", va="center")
smudges = [
    (25, 72, 380, 394, ["#b4acac", "#6e6e9c", "#5a5aa0", "#8a8ab2", "#cca492", "#dfe3e8"]),
    (15, 80, 399, 409, ["#858585", "#6a6a72", "#55557e", "#a0a098", "#8a8282", "#c4c4c4"]),
    (30, 72, 432, 447, ["#8e8e8e", "#b0b0b8", "#c8b8b0", "#ecbcaa", "#e4e4e4"]),
]
for x0, x1, y0, y1, cols in smudges:
    rgb = np.array([[matplotlib.colors.to_rgb(col) for col in cols]])
    top.imshow(rgb, extent=(x0, x1, y1, y0), aspect="auto", interpolation="bilinear", zorder=5)
top.set_xlim(0, W)
top.set_ylim(H, 0)
top.text(1247, 906, "@雪刀浪子", fontsize=24, color="white", va="center", zorder=8,
         path_effects=[pe.withStroke(linewidth=1.1, foreground="#6f6f6f"), pe.Normal()])
top.add_patch(Arc((1225, 907), 27, 24, theta1=300, theta2=170, color="#555555", lw=0.9, zorder=8))
top.plot([1212, 1222, 1226, 1234], [921, 900, 893, 892], color="#555555", lw=0.9, zorder=8)
top.plot([1214, 1238], [907, 905], color="#555555", lw=0.9, zorder=8)

fig.savefig("out.png", dpi=100, facecolor=fig.get_facecolor())
